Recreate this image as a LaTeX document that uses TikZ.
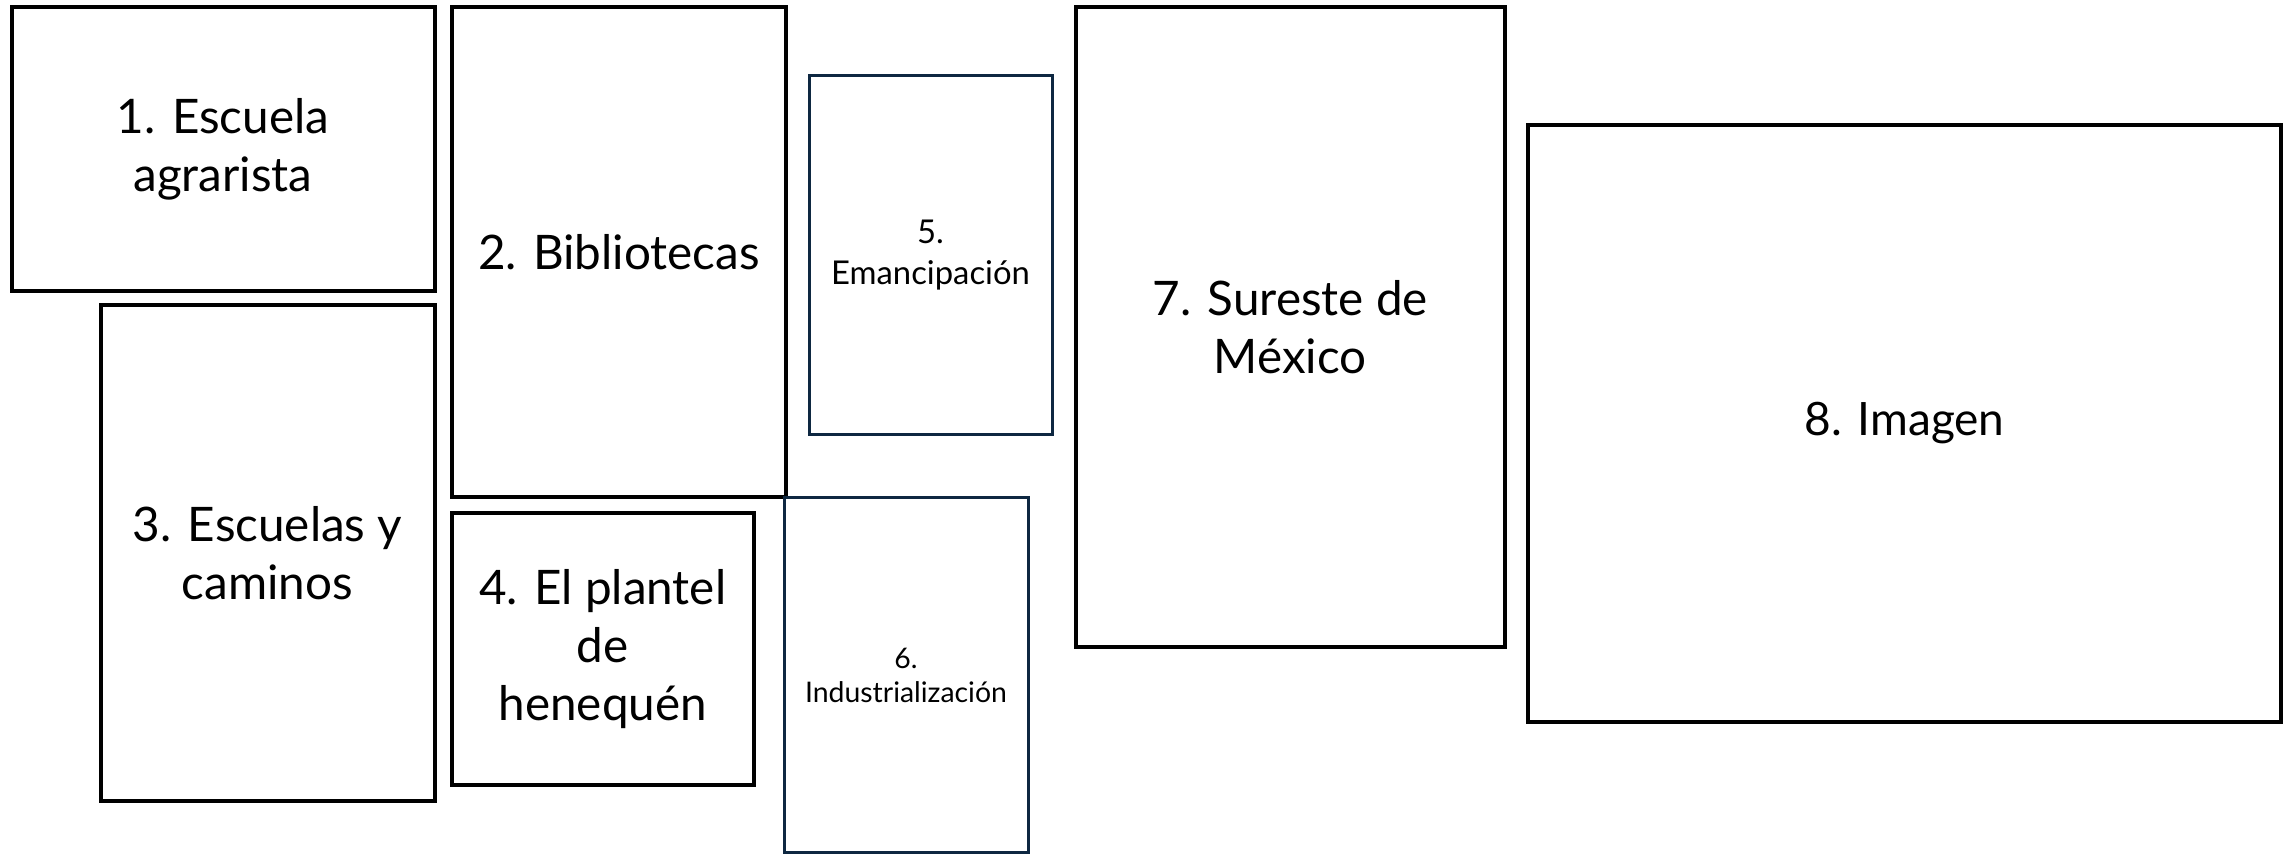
\documentclass[tikz,border=0pt]{standalone}
\usepackage{fontspec}
\setmainfont{Lato}
\definecolor{navy}{HTML}{0E2841}
\begin{document}
\begin{tikzpicture}[x=0.5pt,y=-0.5pt,
  bx/.style={draw=black,line width=2pt,rectangle,inner sep=0pt,align=center,
    font=\fontsize{23.8}{29}\selectfont},
  nbx/.style={draw=navy,line width=1.5pt,rectangle,inner sep=0pt,align=center}]
\useasboundingbox (0,0) rectangle (2295,854);
\node[bx,minimum width={423*0.5pt},minimum height={284*0.5pt}] (b1) at (223,149) {1. Escuela\\agrarista};
\node[bx,minimum width={334*0.5pt},minimum height={490*0.5pt}] (b2) at (619,252) {2. Bibliotecas};
\node[bx,minimum width={334*0.5pt},minimum height={495.5*0.5pt}] (b3) at (267.5,552.75) {3. Escuelas y\\caminos};
\node[bx,minimum width={301.5*0.5pt},minimum height={272*0.5pt}] (b4) at (602.75,649) {4. El plantel\\de\\henequén};
\node[nbx,font=\fontsize{16.4}{20.5}\selectfont,minimum width={243*0.5pt},minimum height={358.5*0.5pt}] (b5) at (930.5,255.25) {5.\\Emancipación};
\node[nbx,font=\fontsize{14.2}{17}\selectfont,minimum width={244*0.5pt},minimum height={354*0.5pt}] (b6) at (906,675) {6.\\Industrialización};
\node[bx,minimum width={428.5*0.5pt},minimum height={640*0.5pt}] (b7) at (1290.25,327) {7. Sureste de\\México};
\node[bx,font=\fontsize{23}{28}\selectfont,minimum width={753*0.5pt},minimum height={596.5*0.5pt}] (b8) at (1904.5,423.25) {8. Imagen};
\end{tikzpicture}
\end{document}
